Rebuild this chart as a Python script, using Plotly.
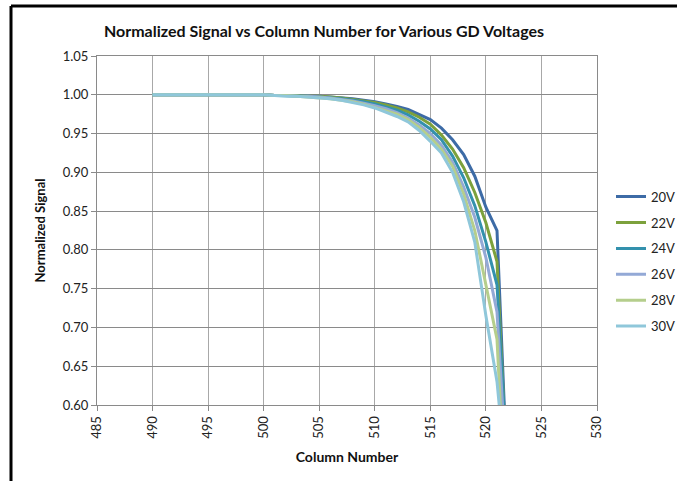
import plotly.graph_objs as go

# column numbers (one point per column)
columns = list(range(490, 523))

# normalized signal for each GD voltage, columns 490..522
flat = [1.000] * 11
v20 = flat + [0.999, 0.999, 0.999, 0.998, 0.998, 0.997, 0.996, 0.995, 0.993, 0.991, 0.988,
              0.985, 0.981, 0.975, 0.968, 0.957, 0.942, 0.923, 0.895, 0.855, 0.825, 0.48]
v22 = flat + [0.999, 0.999, 0.999, 0.998, 0.998, 0.997, 0.996, 0.994, 0.992, 0.990, 0.987,
              0.983, 0.978, 0.971, 0.962, 0.948, 0.930, 0.906, 0.874, 0.835, 0.785, 0.48]
v24 = flat + [0.999, 0.999, 0.998, 0.998, 0.997, 0.996, 0.995, 0.993, 0.991, 0.988, 0.984,
              0.980, 0.974, 0.966, 0.956, 0.942, 0.921, 0.893, 0.857, 0.810, 0.755, 0.50]
v26 = flat + [0.999, 0.999, 0.998, 0.998, 0.997, 0.996, 0.994, 0.992, 0.989, 0.986, 0.982,
              0.977, 0.970, 0.961, 0.950, 0.935, 0.913, 0.881, 0.842, 0.790, 0.720, 0.48]
v28 = flat + [0.999, 0.999, 0.998, 0.997, 0.996, 0.995, 0.993, 0.991, 0.988, 0.984, 0.980,
              0.975, 0.968, 0.958, 0.945, 0.930, 0.908, 0.872, 0.825, 0.755, 0.685, 0.40]
v30 = flat + [0.999, 0.998, 0.998, 0.997, 0.996, 0.995, 0.993, 0.990, 0.987, 0.983, 0.978,
              0.972, 0.965, 0.954, 0.940, 0.925, 0.900, 0.862, 0.810, 0.715, 0.630, 0.48]

labels = ["20V", "22V", "24V", "26V", "28V", "30V"]
series = [v20, v22, v24, v26, v28, v30]
colors = ["#3d6ba6", "#7ca13c", "#3391ad", "#93a9d6", "#b5ce8c", "#8fc7da"]

FONT = "Lato, Open Sans, sans-serif"

fig = go.Figure()

for name, vals, col in zip(labels, series, colors):
    fig.add_trace(
        go.Scatter(
            x=columns,
            y=vals,
            mode="lines",
            name=name,
            legendgroup=name,
            line=dict(color=col, width=3),
        )
    )

fig.update_layout(
    width=677,
    height=481,
    margin=dict(l=97, r=80, t=56, b=76, autoexpand=False),
    paper_bgcolor="white",
    plot_bgcolor="white",
    font=dict(family=FONT, size=12, color="#222"),
    title=dict(
        text="<b>Normalized Signal vs Column Number for Various GD Voltages</b>",
        x=0.454,
        xref="paper",
        xanchor="center",
        y=1 - 31 / 481,
        yanchor="middle",
        font=dict(family=FONT, size=16, color="#111"),
    ),
    legend=dict(
        x=1.028,
        xanchor="left",
        y=0.64,
        yanchor="top",
        font=dict(family=FONT, size=13, color="#222"),
        tracegroupgap=6,
        bgcolor="rgba(0,0,0,0)",
    ),
    showlegend=True,
)

fig.update_xaxes(
    range=[485, 530],
    dtick=5,
    tick0=485,
    tickangle=-90,
    ticks="outside",
    ticklen=5,
    tickcolor="#8a8a8a",
    showgrid=True,
    gridcolor="#a8a8a8",
    gridwidth=1,
    showline=True,
    linecolor="#8a8a8a",
    mirror=True,
    zeroline=False,
    automargin=False,
    tickfont=dict(size=13),
    title=dict(text="<b>Column Number</b>", font=dict(family=FONT, size=14, color="#111"), standoff=14),
)

fig.update_yaxes(
    range=[0.60, 1.05],
    dtick=0.05,
    tick0=0.60,
    tickformat=".2f",
    ticks="outside",
    ticklen=5,
    tickcolor="#8a8a8a",
    showgrid=True,
    gridcolor="#8a8a8a",
    gridwidth=1,
    showline=True,
    linecolor="#8a8a8a",
    mirror=True,
    zeroline=False,
    automargin=False,
    tickfont=dict(size=13),
    title=dict(text="<b>Normalized Signal</b>", font=dict(family=FONT, size=13, color="#111"), standoff=14),
)

# black outer frame (top and left edges, as in the cropped original)
fig.add_shape(type="line", xref="paper", yref="paper",
              x0=(11 - 97) / 500, x1=(700 - 97) / 500,
              y0=(405 - 6) / 349, y1=(405 - 6) / 349,
              line=dict(color="black", width=3))
fig.add_shape(type="line", xref="paper", yref="paper",
              x0=(11 - 97) / 500, x1=(11 - 97) / 500,
              y0=(405 - 6) / 349, y1=(405 - 500) / 349,
              line=dict(color="black", width=3))

# drop the browser's default page margin so the figure sits at the window corner
fig.write_html(
    "out.html",
    config={"displayModeBar": False},
    post_script="document.body.style.margin='0';",
)
